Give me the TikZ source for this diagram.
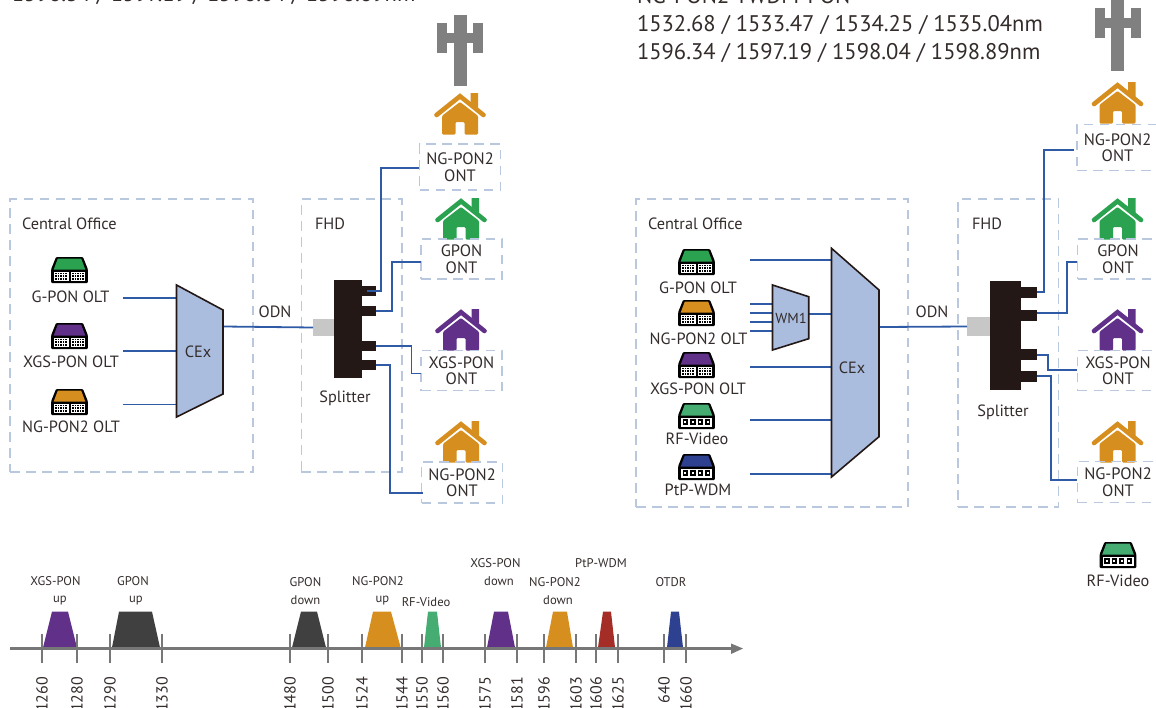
\documentclass[tikz,border=0pt]{standalone}
\usepackage{fontspec}
\setmainfont{PT Sans}
\definecolor{fiber}{HTML}{2F5AA6}
\definecolor{dashc}{HTML}{B9C8DE}
\definecolor{ink}{HTML}{332C2B}
\definecolor{blk}{HTML}{231815}
\definecolor{muxfill}{HTML}{ABBDDF}
\definecolor{cOrange}{HTML}{D68E1F}
\definecolor{cGreen}{HTML}{2BA24F}
\definecolor{cPurple}{HTML}{613088}
\definecolor{cMint}{HTML}{45AD72}
\definecolor{cBlue}{HTML}{2E4090}
\definecolor{cRed}{HTML}{A52D27}
\definecolor{cDark}{HTML}{404040}
\definecolor{cAxis}{HTML}{777777}
\definecolor{cTower}{HTML}{808080}
\tikzset{
  x=1pt,y=-1pt,
  every node/.style={inner sep=0pt,outer sep=0pt,text=ink},
  lab/.style={font=\fontsize{16.3}{16.3}\selectfont,align=center,yshift=-0.8pt},
  small/.style={font=\fontsize{12.6}{17.5}\selectfont,align=center},
  tick/.style={font=\fontsize{16}{16}\selectfont,rotate=90,anchor=east},
  head/.style={font=\fontsize{22.6}{22.6}\selectfont,anchor=west},
  dbox/.style={draw=dashc,line width=1.4pt,dash pattern=on 9.5pt off 6.5pt},
  ontbox/.style={dbox,font=\fontsize{16.5}{16.5}\selectfont,align=center,minimum width=81pt},
  fib/.style={draw=fiber,line width=1.8pt},
  mux/.style={draw=blk,fill=muxfill,line width=1.6pt,line join=miter},
  block/.style={fill=blk,draw=none},
  tickline/.style={draw=cAxis,line width=1.2pt},
  pics/house/.style={code={
    \draw[#1,line width=4.6pt,line cap=round,line join=miter] (-23.5,22)--(0,3.2)--(23.5,22);
    \fill[#1] (10.5,0)--(18,0)--(18,15)--(10.5,9)--cycle;
    \fill[#1,rounded corners=1.2pt] (-18,22.8)--(0,9)--(18,22.8)--(18,41.5)--(4.5,41.5)--(4.5,29)--(-4.5,29)--(-4.5,41.5)--(-18,41.5)--cycle;
  }},
  pics/oltbase/.style={code={
    \fill[black,rounded corners=1pt] (-13.5,0)--(13.5,0)--(18.3,12)--(18.3,26)--(-18.3,26)--(-18.3,12)--cycle;
    \fill[#1] (-11.7,1.6)--(11.7,1.6)--(15.8,12.5)--(-15.8,12.5)--cycle;
    \fill[white] (-15.5,14.5) rectangle (15.5,23.5);
  }},
  pics/olt/.style={code={
    \pic {oltbase=#1};
    \foreach \xx in {-13.5,-11,-8.5,-6,-3.5,3.5,6,8.5,11,13.5}
      \foreach \yy in {16.3,19,21.7} {\fill[black] (\xx-.8,\yy-.8) rectangle (\xx+.8,\yy+.8);}
    \fill[black] (-1,14.5) rectangle (1,23.5);
  }},
  pics/rfb/.style={code={
    \pic {oltbase=#1};
    \foreach \xx in {-11.2,-3.7,3.7,11.2} {\fill[black] (\xx-2.7,16.3) rectangle (\xx+2.7,21.7); \fill[white] (\xx-1,18) rectangle (\xx+1,20);}
  }},
  pics/tower/.style={code={
    \fill[cTower] (-6.5,0) rectangle (6.5,71);
    \fill[cTower] (-23,8) rectangle (-13,38);
    \fill[cTower] (13,8) rectangle (23,38);
    \fill[cTower] (-23,17.5) rectangle (23,28);
  }},
}
\begin{document}
\begin{tikzpicture}
\useasboundingbox (0,0) rectangle (1156,707);
\clip (0,0) rectangle (1156,707);

% headings
\node[head] (hl) at (12,-4.5) {1596.34 / 1597.19 / 1598.04 / 1598.89nm};
\node[head] (hr0) at (637,-4.5) {NG-PON2 TWDM-PON};
\node[head] (hr1) at (637,25) {1532.68 / 1533.47 / 1534.25 / 1535.04nm};
\node[head] (hr2) at (637,53) {1596.34 / 1597.19 / 1598.04 / 1598.89nm};

% ---------- left diagram ----------
\node[dbox,minimum width=243pt,minimum height=273pt] (lco) at (131.5,335.5) {};
\node[dbox,minimum width=100.5pt,minimum height=273pt] (lfhd) at (351.7,335.5) {};
\node[lab,anchor=west] (lcot) at (22,223) {Central Office};
\node[lab,anchor=west] (lfhdt) at (315,223) {FHD};

\pic at (460,15) {tower};
\pic at (460,93) {house=cOrange};
\pic at (461,198) {house=cGreen};
\pic at (461,309) {house=cPurple};
\pic at (461,421) {house=cOrange};

\node[ontbox,minimum height=46pt] (lont1) at (460,167) {NG-PON2\\ONT};
\node[ontbox,minimum height=40pt] (lont2) at (461.5,259) {GPON\\ONT};
\node[ontbox,minimum height=40pt] (lont3) at (461.5,370.5) {XGS-PON\\ONT};
\node[ontbox,minimum height=41pt] (lont4) at (462,482.5) {NG-PON2\\ONT};

\pic at (69.5,257) {olt=cGreen};
\pic at (69.5,323) {olt=cPurple};
\pic at (69.5,389) {olt=cOrange};
\node[lab] (lo1) at (70.5,296) {G-PON OLT};
\node[lab] (lo2) at (71,361) {XGS-PON OLT};
\node[lab] (lo3) at (71,426) {NG-PON2 OLT};

\coordinate (ls1) at (123,298); \coordinate (lt1) at (176.5,298);
\coordinate (ls2) at (123,351); \coordinate (lt2) at (176.5,351);
\coordinate (ls3) at (123,404.5); \coordinate (lt3) at (176.5,404.5);
\draw[fib] (ls1)--(lt1); \draw[fib] (ls2)--(lt2); \draw[fib] (ls3)--(lt3);

\draw[mux] (176.5,285)--(223,310)--(223,394)--(176.5,417)--cycle;
\node[lab] (lcex) at (198,351) {CEx};
\coordinate (lcexo) at (224,326.5);

\node[block,minimum width=28pt,minimum height=98pt] (lsp) at (348,329) {};
\node[fill=black!22,minimum width=21pt,minimum height=17pt] (lgr) at (323.5,327.5) {};
\node[block,minimum width=14pt,minimum height=10pt] (lp1) at (369,291) {};
\node[block,minimum width=14pt,minimum height=10pt] (lp2) at (369,311) {};
\node[block,minimum width=14pt,minimum height=10pt] (lp3) at (369,346) {};
\node[block,minimum width=14pt,minimum height=10pt] (lp4) at (369,365) {};
\node[lab] (lspt) at (345,397.5) {Splitter};
\node[lab] (lodn) at (275,311) {ODN};
\draw[fib] (lcexo)--(lgr.west);

\coordinate (lb1) at (381,168); \coordinate (le1) at (419,168);
\coordinate (lb2) at (392,262); \coordinate (le2) at (421,262);
\coordinate (lb3) at (411.5,373.5); \coordinate (le3) at (421,373.5);
\coordinate (lb4) at (390,493); \coordinate (le4) at (423,493);
\coordinate (lq1) at (366.5,291);
\draw[fib] (lq1) -| (lb1) -- (le1);
\draw[fib] (lp2.east) -| (lb2) -- (le2);
\draw[fib] (lp3.east) -| (lb3) -- (le3);
\draw[fib] (lp4.east) -| (lb4) -- (le4);

% ---------- right diagram ----------
\node[dbox,minimum width=272pt,minimum height=308pt] (rco) at (772,353) {};
\node[dbox,minimum width=100.5pt,minimum height=308pt] (rfhd) at (1008.3,353) {};
\node[lab,anchor=west] (rcot) at (648,223) {Central Office};
\node[lab,anchor=west] (rfhdt) at (972,223) {FHD};

\pic at (1117.5,0) {tower};
\pic at (1117.5,82) {house=cOrange};
\pic at (1117.5,198) {house=cGreen};
\pic at (1117.5,309) {house=cPurple};
\pic at (1117.5,421) {house=cOrange};

\node[ontbox,minimum height=46pt] (ront1) at (1117.5,147.5) {NG-PON2\\ONT};
\node[ontbox,minimum height=40pt] (ront2) at (1118,259) {GPON\\ONT};
\node[ontbox,minimum height=40pt] (ront3) at (1118,370.5) {XGS-PON\\ONT};
\node[ontbox,minimum height=41pt] (ront4) at (1118,482) {NG-PON2\\ONT};

\pic at (696.5,249) {olt=cGreen};
\pic at (696.5,300) {olt=cOrange};
\pic at (696.5,352) {olt=cPurple};
\pic at (696.5,403) {rfb=cMint};
\pic at (696.5,454) {rfb=cBlue};
\node[lab] (ro1) at (698,287) {G-PON OLT};
\node[lab] (ro2) at (698.5,338) {NG-PON2 OLT};
\node[lab] (ro3) at (698,388) {XGS-PON OLT};
\node[lab] (ro4) at (697,438) {RF-Video};
\node[lab] (ro5) at (698,489) {PtP-WDM};

\coordinate (rs1) at (750,260); \coordinate (rt1) at (831.5,260);
\coordinate (rs3) at (750,367); \coordinate (rt3) at (831.5,367);
\coordinate (rs4) at (750,420); \coordinate (rt4) at (831.5,420);
\coordinate (rs5) at (750,473.7); \coordinate (rt5) at (831.5,473.7);
\draw[fib] (rs1)--(rt1); \draw[fib] (rs3)--(rt3); \draw[fib] (rs4)--(rt4); \draw[fib] (rs5)--(rt5);

\coordinate (rw1) at (750,304); \coordinate (rw1e) at (772.5,304);
\coordinate (rw2) at (750,313); \coordinate (rw2e) at (772.5,313);
\coordinate (rw3) at (750,322); \coordinate (rw3e) at (772.5,322);
\coordinate (rw4) at (750,331); \coordinate (rw4e) at (772.5,331);
\draw[fib] (rw1)--(rw1e); \draw[fib] (rw2)--(rw2e); \draw[fib] (rw3)--(rw3e); \draw[fib] (rw4)--(rw4e);
\coordinate (rwo) at (808.7,313.7); \coordinate (rwt) at (831.5,313.7);
\draw[fib] (rwo)--(rwt);

\draw[mux] (772.5,285)--(808.7,296.7)--(808.7,338.7)--(772.5,350)--cycle;
\node[font=\fontsize{14.5}{14.5}\selectfont] (rwm) at (791,318) {WM1};
\draw[mux] (831.5,248.3)--(879,290)--(879,436.7)--(831.5,477)--cycle;
\node[lab] (rcex) at (852,367) {CEx};
\coordinate (rcexo) at (880,327);

\node[block,minimum width=31pt,minimum height=109pt] (rsp) at (1005.5,335.5) {};
\node[fill=black!22,minimum width=23pt,minimum height=19pt] (rgr) at (978.5,326.5) {};
\node[block,minimum width=16pt,minimum height=11pt] (rp1) at (1029,292.5) {};
\node[block,minimum width=16pt,minimum height=11pt] (rp2) at (1029,315.5) {};
\node[block,minimum width=16pt,minimum height=11pt] (rp3) at (1029,354.5) {};
\node[block,minimum width=16pt,minimum height=11pt] (rp4) at (1029,376.5) {};
\node[lab] (rspt) at (1003,411.5) {Splitter};
\node[lab] (rodn) at (932,311) {ODN};
\draw[fib] (rcexo)--(rgr.west);

\coordinate (rq1) at (1037,292); \coordinate (rb1) at (1044,150); \coordinate (re1) at (1074,150);
\coordinate (rq2) at (1037,313); \coordinate (rb2) at (1067,262); \coordinate (re2) at (1077,262);
\coordinate (rq3) at (1037,354.7); \coordinate (rb3) at (1048,369.7); \coordinate (re3) at (1077,369.7);
\coordinate (rq4) at (1037,375.7); \coordinate (rb4) at (1051,480); \coordinate (re4) at (1077,480);
\draw[fib] (rq1) -| (rb1) -- (re1);
\draw[fib] (rq2) -| (rb2) -- (re2);
\draw[fib] (rq3) -| (rb3) -- (re3);
\draw[fib] (rq4) -| (rb4) -- (re4);

\pic at (1118,542) {rfb=cMint};
\node[lab] (rrf) at (1118,580) {RF-Video};

% ---------- spectrum ----------
\coordinate (axs) at (10,648.5); \coordinate (axe) at (732,648.5);
\fill[cPurple] (43,647.5)--(52,611.7)--(68,611.7)--(77,647.5)--cycle;
\fill[cDark] (112,647.5)--(119,611.7)--(152,611.7)--(160,647.5)--cycle;
\fill[cDark] (292,647.5)--(301,611.7)--(317,611.7)--(326,647.5)--cycle;
\fill[cOrange] (365,647.5)--(373,611.7)--(391,611.7)--(400.7,647.5)--cycle;
\fill[cMint] (424,647.5)--(428,611.7)--(437,611.7)--(441,647.5)--cycle;
\fill[cPurple] (487,647.5)--(494,611.7)--(508,611.7)--(515,647.5)--cycle;
\fill[cOrange] (546,647.5)--(553,611.7)--(567,611.7)--(573,647.5)--cycle;
\fill[cRed] (598,647.5)--(603,611.7)--(611,611.7)--(615,647.5)--cycle;
\fill[cBlue] (667,647.5)--(671,611.7)--(679,611.7)--(683,647.5)--cycle;
\draw[cAxis,line width=2.5pt] (axs)--(axe);
\fill[cAxis] (731,643.5)--(743,648.5)--(731,654)--cycle;
\foreach \tx/\tl in {42/1260,77/1280,110/1290,162/1330,290/1480,328/1500,362/1524,402/1544,422/1550,443/1560,485/1575,517/1581,544/1596,576/1603,596/1606,618/1625,664/640,686/1660} {
  \draw[tickline] (\tx,634)--(\tx,663);
  \node[tick] (t\tl) at (\tx,677) {\tl};
}
\node[small] (s1) at (55.5,591) {XGS-PON\\\hspace*{9pt}up};
\node[small] (s2) at (133,591) {GPON\\\hspace*{6pt}up};
\node[small] (s3) at (305.5,591) {GPON\\down};
\node[small] (s4) at (378,591) {NG-PON2\\\hspace*{9pt}up};
\node[small] (s5) at (426,602) {RF-Video};
\node[small] (s6) at (495.5,572) {XGS-PON\\\hspace*{7pt}down};
\node[small] (s7) at (555,591) {NG-PON2\\\hspace*{6pt}down};
\node[small] (s8) at (601,563.5) {PtP-WDM};
\node[small] (s9) at (671,582) {OTDR};
\end{tikzpicture}
\end{document}
